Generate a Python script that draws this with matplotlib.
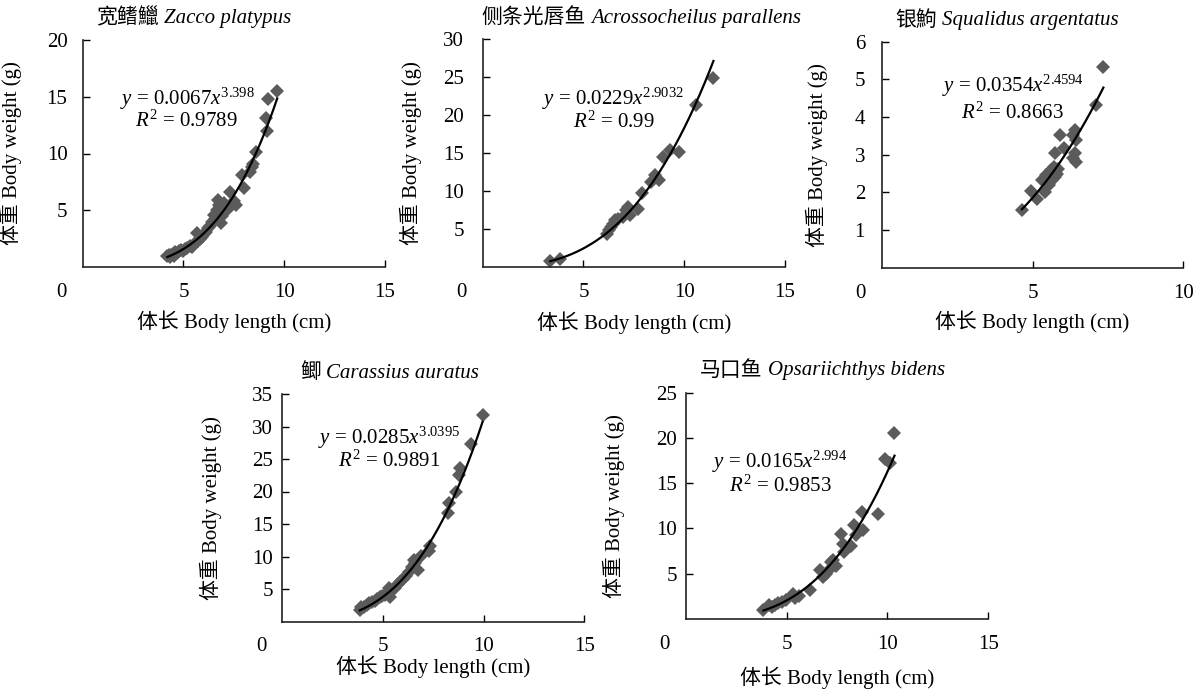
import numpy as np
import matplotlib
matplotlib.use("Agg")
import matplotlib.pyplot as plt

plt.rcParams['font.family'] = ['Liberation Serif', 'Noto Sans CJK SC']
plt.rcParams['mathtext.fontset'] = 'custom'
plt.rcParams['mathtext.rm'] = 'Liberation Serif'
plt.rcParams['mathtext.it'] = 'Liberation Serif:italic'

# length (cm) / weight (g) samples per species
zp_len = [4.2, 4.3, 4.35, 4.4, 4.5, 4.55, 4.6, 4.7, 4.8, 4.9, 5.0, 5.1, 5.2, 5.3, 5.4, 5.5,
          5.65, 5.7, 5.8, 5.9, 6.0, 6.1, 6.2, 6.3, 6.4, 6.5, 6.55, 6.65, 6.7, 6.75, 6.8, 6.85,
          6.9, 7.0, 7.2, 7.3, 7.5, 7.6, 7.9, 8.0, 8.3, 8.4, 8.45, 8.6, 9.1, 9.15, 9.2, 9.65]
zp_wt = [0.95, 1.05, 0.9, 1.1, 1.15, 1.0, 1.3, 1.25, 1.4, 1.5, 1.45, 1.6, 1.7, 1.85, 1.8, 2.0,
         3.0, 2.3, 2.45, 2.6, 2.9, 3.1, 3.4, 3.6, 4.0, 4.6, 4.2, 5.0, 5.9, 5.5, 5.3, 3.9,
         4.5, 5.6, 5.1, 6.6, 5.8, 5.5, 8.1, 7.0, 8.4, 8.8, 9.1, 10.1, 13.1, 12.0, 14.8, 15.5]

ap_len = [3.35, 3.85, 6.15, 6.25, 6.35, 6.45, 6.55, 6.7, 6.95, 7.1, 7.2, 7.3, 7.7, 7.9,
          8.35, 8.55, 8.75, 8.95, 9.3, 9.75, 10.6, 11.45]
ap_wt = [0.8, 1.1, 4.4, 4.9, 5.3, 5.7, 6.2, 6.3, 6.6, 7.5, 7.9, 6.8, 7.6, 9.7,
         11.2, 12.1, 11.5, 14.5, 15.4, 15.2, 21.4, 24.9]

sa_len = [4.65, 4.95, 5.15, 5.3, 5.4, 5.45, 5.5, 5.55, 5.6, 5.65, 5.7, 5.75, 5.8, 5.85,
          5.75, 5.92, 6.05, 6.35, 6.4, 6.45, 6.4, 6.45, 6.35, 7.12, 7.35]
sa_wt = [1.53, 2.04, 1.82, 2.33, 2.02, 2.46, 2.28, 2.19, 2.59, 2.33, 2.68, 2.4, 2.5, 2.62,
         3.04, 3.52, 3.17, 3.52, 3.65, 3.39, 3.04, 2.81, 2.9, 4.32, 5.34]

ca_len = [3.85, 3.9, 4.05, 4.2, 4.3, 4.45, 4.6, 4.7, 4.85, 4.95, 5.1, 5.2, 5.3, 5.35, 5.45,
          5.6, 5.75, 5.85, 6.0, 6.15, 6.3, 6.45, 6.55, 6.6, 6.75, 6.9, 7.3, 7.35, 8.25, 8.3,
          8.65, 8.8, 8.85, 9.35, 9.95]
ca_wt = [1.8, 2.2, 2.3, 2.5, 2.8, 3.0, 3.2, 3.5, 3.7, 3.9, 4.1, 4.4, 5.1, 3.8, 4.8,
         5.2, 5.7, 6.1, 6.6, 7.0, 7.6, 8.4, 9.5, 9.0, 8.0, 10.1, 10.8, 11.6, 16.7, 18.2,
         20.0, 22.5, 23.6, 27.3, 31.8]

ob_len = [3.85, 4.15, 4.3, 4.45, 4.6, 4.75, 4.95, 5.3, 5.4, 5.6, 6.15, 6.65, 6.8, 6.95, 7.1,
          7.2, 7.3, 7.45, 7.7, 7.8, 7.85, 8.2, 8.35, 8.45, 8.75, 8.8, 9.55, 9.9, 10.15, 10.35]
ob_wt = [0.95, 1.5, 1.3, 1.5, 1.8, 1.9, 2.1, 2.8, 2.3, 2.5, 3.2, 5.4, 4.6, 5.0, 5.4,
         6.3, 6.5, 5.9, 9.4, 8.3, 7.4, 8.1, 10.4, 9.3, 11.8, 9.8, 11.6, 17.7, 17.2, 20.6]

# W = a * L^b
fit_a = [0.0067, 0.0229, 0.0354, 0.0285, 0.0165]
fit_b = ['3.398', '2.9032', '2.4594', '3.0395', '2.994']
fit_r2 = ['0.9789', '0.99', '0.8663', '0.9891', '0.9853']

cn_names = ['宽鳍鱲', '侧条光唇鱼', '银鮈', '鲫', '马口鱼']
latin_names = ['Zacco platypus', 'Acrossocheilus parallens', 'Squalidus argentatus',
               'Carassius auratus', 'Opsariichthys bidens']

lengths = [zp_len, ap_len, sa_len, ca_len, ob_len]
weights = [zp_wt, ap_wt, sa_wt, ca_wt, ob_wt]
x_max = [15, 15, 10, 15, 15]
y_max = [20, 30, 6, 35, 25]
y_step = [5, 5, 1, 5, 5]

W, H = 1200, 689
# axes boxes in pixels: left, top, right, bottom
boxes = [(82.7, 40, 385, 267), (482.7, 39.3, 785, 267), (881.7, 41.7, 1183.3, 267.7),
         (282.3, 394, 584.3, 621.5), (685.7, 392.7, 988.3, 619)]
title_pos = [(96, 18), (481, 18), (895, 21), (300, 373), (700, 371)]
# equation baselines, axes fraction
eq_pos = [((0.345, 0.714), (0.344, 0.617)), ((0.431, 0.711), (0.434, 0.612)),
          ((0.435, 0.779), (0.432, 0.661)), ((0.353, 0.782), (0.353, 0.680)),
          ((0.312, 0.667), (0.312, 0.561))]
ylab_x = [-0.201, -0.201, -0.178, -0.2, -0.2]
xlab_y = [-0.19, -0.197, -0.187, -0.147, -0.211]
ytick_pad = [11, 13.5, 12, 6.5, 6]

fig = plt.figure(figsize=(12, 6.89), dpi=100)
mcol = '#5b5b5b'

for i in range(5):
    l, t, r, b = boxes[i]
    ax = fig.add_axes([l / W, 1 - b / H, (r - l) / W, (b - t) / H])
    ax.plot(lengths[i], weights[i], linestyle='none', marker='D', markersize=7,
            color=mcol, markeredgewidth=0)
    xs = np.linspace(min(lengths[i]), max(lengths[i]), 200)
    ax.plot(xs, fit_a[i] * xs ** float(fit_b[i]), color='black', lw=1.6)

    ax.set_xlim(0, x_max[i])
    ax.set_ylim(0, y_max[i])
    ax.set_xticks(np.arange(5, x_max[i] + 1, 5))
    ax.set_yticks(np.arange(y_step[i], y_max[i] + 0.01, y_step[i]))
    ax.tick_params(axis='x', direction='in', length=5, width=1, pad=11.5, labelsize=15)
    ax.tick_params(axis='y', direction='in', length=5, width=1, pad=ytick_pad[i], labelsize=15)
    for s in ['top', 'right']:
        ax.spines[s].set_visible(False)
    for s in ['left', 'bottom']:
        ax.spines[s].set_linewidth(1.2)
        ax.spines[s].set_color('#222222')

    # shared origin label
    ax.annotate('0', xy=(0, 0), xycoords='data', xytext=(-15, -11.5),
                textcoords='offset points', ha='center', va='top', fontsize=15)

    ax.set_xlabel('体长 Body length (cm)', fontsize=15)
    ax.xaxis.set_label_coords(0.5, xlab_y[i])
    ax.set_ylabel('体重 Body weight (g)', fontsize=15)
    ax.yaxis.set_label_coords(ylab_x[i], 0.5)

    (e1x, e1y), (e2x, e2y) = eq_pos[i]
    ax.text(e1x, e1y, r'$y$ = %s$x^{%s}$' % (fit_a[i], fit_b[i]), transform=ax.transAxes,
            ha='center', va='baseline', fontsize=15)
    ax.text(e2x, e2y, r'$R^2$ = %s' % fit_r2[i], transform=ax.transAxes,
            ha='center', va='baseline', fontsize=15)

    tx, ty = title_pos[i]
    t1 = fig.text(tx / W, 1 - ty / H, cn_names[i], fontsize=15, ha='left', va='center')
    ax.annotate(latin_names[i], xy=(1, 0.5), xycoords=t1, xytext=(4, 0),
                textcoords='offset points', ha='left', va='center',
                fontsize=15, style='italic')

fig.savefig('out.png', dpi=100)
